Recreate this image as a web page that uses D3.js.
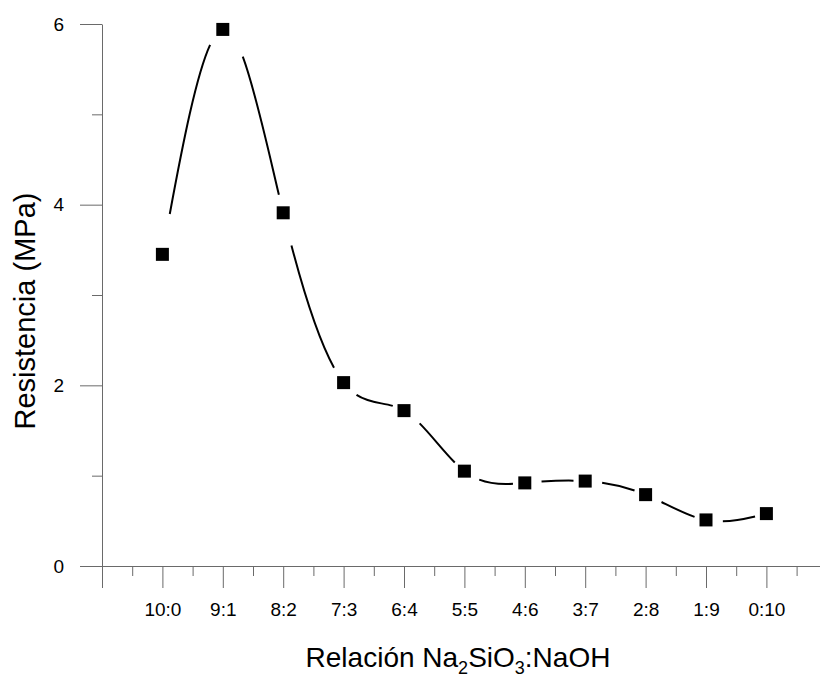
<!DOCTYPE html>
<html>
<head>
<meta charset="utf-8">
<script src="https://cdn.jsdelivr.net/npm/d3@7"></script>
<style>
  body { margin: 0; background: #fff; }
  svg { display: block; font-family: "Liberation Sans", Arial, sans-serif; }
</style>
</head>
<body>
<svg width="820" height="679"></svg>
<script>
let ratios = ["10:0", "9:1", "8:2", "7:3", "6:4", "5:5", "4:6", "3:7", "2:8", "1:9", "0:10"];
let resistance = [3.45, 5.94, 3.91, 2.03, 1.72, 1.05, 0.92, 0.94, 0.79, 0.51, 0.58];
let yMajor = [0, 2, 4, 6];
let yMinor = [1, 3, 5];

let svg = d3.select("svg");
let axisColor = "#6a6a6a";

let x = d3.scaleLinear().domain([0, 12]).range([102, 102 + 12 * 60.4]);
let y = d3.scaleLinear().domain([0, 6]).range([566, 24]);

// y axis, ticks outward to the left
let gy = svg.append("g").attr("transform", "translate(102,0)");
gy.call(d3.axisLeft(y).tickValues(yMajor).tickSize(22).tickSizeOuter(0).tickPadding(16).tickFormat(d3.format("d")));
gy.append("g").call(d3.axisLeft(y).tickValues(yMinor).tickSize(10).tickSizeOuter(0).tickFormat(""))
    .select(".domain").remove();

// x axis, major at each ratio, minor halfway
let majorX = d3.range(0, 13);
let minorX = d3.range(0.5, 12, 1);
let gx = svg.append("g").attr("transform", "translate(0,566)");
gx.call(d3.axisBottom(x).tickValues(majorX).tickSize(22).tickSizeOuter(0).tickPadding(15)
    .tickFormat(d => (d >= 1 && d <= ratios.length) ? ratios[d - 1] : ""));
gx.append("g").call(d3.axisBottom(x).tickValues(minorX).tickSize(10).tickSizeOuter(0).tickFormat(""))
    .select(".domain").remove();

svg.selectAll(".domain, .tick line").attr("stroke", axisColor).attr("stroke-width", 1);
svg.selectAll(".tick text").attr("font-size", 19).attr("fill", "#000")
    .attr("font-family", "Liberation Sans, Arial, sans-serif");

// spline through the points, with gaps near each marker
let pts = resistance.map((v, i) => [x(i + 1), y(v)]);
let line = d3.line().curve(d3.curveNatural);
let curve = svg.append("path")
    .attr("d", line(pts))
    .attr("fill", "none")
    .attr("stroke", "#000")
    .attr("stroke-width", 2);

let node = curve.node();
let total = node.getTotalLength();

function lengthAtX(px) {
    let lo = 0, hi = total;
    for (let k = 0; k < 40; k++) {
        let mid = (lo + hi) / 2;
        if (node.getPointAtLength(mid).x < px) lo = mid; else hi = mid;
    }
    return (lo + hi) / 2;
}

// dash pattern: zero dash, gap after marker, drawn piece, gap before next marker
let marks = pts.map(p => lengthAtX(p[0]));
let arr = [];
for (let i = 0; i < marks.length - 1; i++) {
    let segLen = marks[i + 1] - marks[i];
    let gs = 8 + 0.14 * segLen;
    let ge = 9 + 0.05 * segLen;
    arr.push(0, gs, Math.max(segLen - gs - ge, 0), ge);
}
curve.attr("stroke-dasharray", arr.join(" ")).attr("stroke-linecap", "butt");

// markers
let ms = 13;
svg.append("g").selectAll("rect")
    .data(resistance)
    .join("rect")
    .attr("x", (d, i) => x(i + 1) - ms / 2)
    .attr("y", d => y(d) - ms / 2)
    .attr("width", ms)
    .attr("height", ms)
    .attr("fill", "#000");

// axis titles
svg.append("text")
    .attr("transform", "translate(35,311) rotate(-90)")
    .attr("text-anchor", "middle")
    .attr("font-size", 29)
    .text("Resistencia (MPa)");

let xt = svg.append("text")
    .attr("x", 458)
    .attr("y", 667)
    .attr("text-anchor", "middle")
    .attr("font-size", 28);
xt.append("tspan").text("Relación Na");
xt.append("tspan").attr("font-size", 18).attr("dy", 7).text("2");
xt.append("tspan").attr("dy", -7).text("SiO");
xt.append("tspan").attr("font-size", 18).attr("dy", 7).text("3");
xt.append("tspan").attr("dy", -7).text(":NaOH");
</script>
</body>
</html>
